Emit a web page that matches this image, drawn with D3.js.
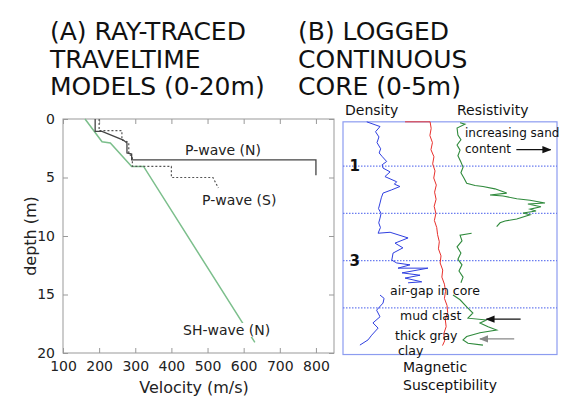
<!DOCTYPE html>
<html>
<head>
<meta charset="utf-8">
<script src="https://cdn.jsdelivr.net/npm/d3@7/dist/d3.min.js"></script>
<style>
  body { margin: 0; background: #fff; }
  svg { display: block; font-family: "DejaVu Sans", sans-serif; }
  .tick text { font-family: "DejaVu Sans", sans-serif; }
</style>
</head>
<body>
<div id="chart"></div>
<script>
// ---- panel A: ray-traced traveltime models, [velocity m/s, depth m]
const velTicks = [100, 200, 300, 400, 500, 600, 700, 800];
const depthTicks = [0, 5, 10, 15, 20];
const pWaveN = [[189, 0], [189, 1.05], [208, 1.05], [267, 1.8], [277, 2.05], [277, 2.9], [290, 3.0], [290, 3.5], [800, 3.5], [800, 4.8]];
const pWaveS = [[200, 0], [200, 1.0], [263, 1.0], [263, 1.8], [282, 2.0], [282, 3.0], [292, 3.2], [292, 4.05], [400, 4.05], [400, 5.0], [515, 5.0], [530, 5.9]];
const shWaveN = [[161, 0], [208, 1.95], [231, 2.05], [290, 4.05], [323, 4.05], [631, 19.1]];

// ---- panel B: logged core, [relative value 0-100, depth m]
const coreLines = [1, 2, 3, 4];
const coreLabels = [1, 3];
const density = [[11.1, 0.06], [17.3, 0.16], [15.2, 0.27], [16.8, 0.38], [15.9, 0.5], [17.6, 0.63], [16.9, 0.72], [18.4, 0.8],
  [20.4, 0.9], [18.3, 0.97], [18.7, 1.04], [22.0, 1.12], [19.6, 1.22], [25.1, 1.33], [24.0, 1.38], [26.6, 1.43], [22.8, 1.5],
  [18.7, 1.57], [17.9, 1.67], [17.3, 1.78], [16.6, 1.9], [17.8, 2.0], [17.3, 2.1], [16.7, 2.2], [17.5, 2.3], [16.4, 2.42],
  [22.0, 2.4], [30.4, 2.52], [24.3, 2.63], [28.0, 2.73], [23.4, 2.84], [22.8, 2.99], [25.1, 3.05], [31.3, 3.09], [25.7, 3.16],
  [39.7, 3.16], [27.6, 3.26], [36.0, 3.31], [29.0, 3.37], [36.8, 3.45], [30.4, 3.47], [null, null],
  [17.3, 3.73], [19.2, 3.8], [18.7, 3.9], [15.7, 4.05], [17.3, 4.19], [14.0, 4.32], [16.4, 4.43], [13.4, 4.58], [11.7, 4.68], [7.9, 4.79]];
const magSus = [[29, 0.06], [40.7, 0.06], [41.2, 0.2], [40.6, 0.35], [41.8, 0.5], [41.1, 0.65], [42.5, 0.8], [41.9, 0.95],
  [43.0, 1.1], [42.4, 1.25], [43.6, 1.4], [42.8, 1.55], [43.5, 1.7], [42.6, 1.85], [43.4, 2.0], [42.7, 2.15], [43.8, 2.3],
  [44.2, 2.45], [45.0, 2.6], [44.6, 2.75], [45.8, 2.9], [45.4, 3.05], [46.6, 3.2], [46.2, 3.35], [47.4, 3.5], [47.9, 3.65],
  [47.4, 3.8], [48.6, 3.95], [48.9, 4.1], [47.8, 4.25], [48.2, 4.4], [47.1, 4.55], [47.5, 4.7], [46.5, 4.8]];
const resistivity = [[54.7, 0.08], [57.0, 0.11], [53.3, 0.19], [53.7, 0.34], [55.1, 0.44], [53.3, 0.55], [54.7, 0.66],
  [53.7, 0.78], [55.1, 0.91], [56.1, 1.02], [55.1, 1.14], [56.5, 1.25], [57.8, 1.36], [61.7, 1.41], [65.4, 1.43], [71.0, 1.48],
  [76.5, 1.57], [68.7, 1.61], [74.8, 1.63], [81.2, 1.69], [87.4, 1.72], [94.4, 1.78], [86.4, 1.8], [92.5, 1.86], [87.4, 1.91],
  [90.2, 1.95], [84.1, 1.99], [87.4, 2.03], [81.2, 2.12], [75.7, 2.16], [73.4, 2.2], [71.8, 2.28], [null, null],
  [60.1, 2.42], [54.7, 2.46], [55.6, 2.58], [53.3, 2.71], [55.1, 2.84], [53.7, 2.97], [55.6, 3.09], [54.2, 3.22], [56.1, 3.35],
  [55.1, 3.47], [null, null], [51.4, 3.73], [54.7, 3.83], [57.8, 3.98], [60.7, 4.11], [58.4, 4.22], [67.1, 4.26], [64.0, 4.32],
  [67.8, 4.4], [71.8, 4.47], [64.0, 4.53], [57.8, 4.61], [56.1, 4.68], [58.4, 4.75], [65.4, 4.79]];

const W = 563, H = 398;
const svg = d3.select('#chart').append('svg').attr('width', W).attr('height', H);

// titles
const titleA = ['(A) RAY-TRACED', 'TRAVELTIME', 'MODELS (0-20m)'];
const titleB = ['(B) LOGGED', 'CONTINUOUS', 'CORE (0-5m)'];
[[titleA, 50], [titleB, 298]].forEach(([lines, x0]) => {
  svg.selectAll(null).data(lines).enter().append('text')
    .attr('x', x0).attr('y', (d, i) => 40 + i * 27.5)
    .attr('font-size', 25).attr('fill', '#111').text(d => d);
});

// ---------- panel A ----------
const x = d3.scaleLinear().domain([100, 850]).range([63, 334]);
const y = d3.scaleLinear().domain([0, 20]).range([119, 353]);
const gA = svg.append('g');

gA.append('rect').attr('x', x(100)).attr('y', y(0))
  .attr('width', x(850) - x(100)).attr('height', y(20) - y(0))
  .attr('fill', 'none').attr('stroke', '#999');

const styleAxis = g => {
  g.select('.domain').remove();
  g.selectAll('.tick line').attr('stroke', '#999');
  g.selectAll('.tick text').attr('fill', '#222').attr('font-size', 14);
};
gA.append('g').attr('transform', `translate(0,${y(20)})`)
  .call(d3.axisBottom(x).tickValues(velTicks).tickSizeInner(-5).tickSizeOuter(0).tickPadding(8))
  .call(styleAxis);
gA.append('g').attr('transform', `translate(0,${y(0)})`)
  .call(d3.axisTop(x).tickValues(velTicks).tickSizeInner(-5).tickSizeOuter(0).tickFormat(''))
  .call(styleAxis);
gA.append('g').attr('transform', `translate(${x(100)},0)`)
  .call(d3.axisLeft(y).tickValues(depthTicks).tickSizeInner(-5).tickSizeOuter(0).tickPadding(8))
  .call(styleAxis);
gA.append('g').attr('transform', `translate(${x(850)},0)`)
  .call(d3.axisRight(y).tickValues(depthTicks).tickSizeInner(-5).tickSizeOuter(0).tickFormat(''))
  .call(styleAxis);

gA.append('text').attr('transform', `translate(30,${y(10)}) rotate(-90)`)
  .attr('text-anchor', 'middle').attr('dominant-baseline', 'central')
  .attr('font-size', 16).attr('fill', '#222').text('depth (m)');
gA.append('text').attr('x', 194).attr('y', 393).attr('text-anchor', 'middle')
  .attr('font-size', 16).attr('fill', '#222').text('Velocity (m/s)');

const lineA = d3.line().x(d => x(d[0])).y(d => y(d[1]));
gA.append('path').attr('d', lineA(shWaveN)).attr('fill', 'none').attr('stroke', '#7cbf8c').attr('stroke-width', 1.5);
gA.append('path').attr('d', lineA(pWaveS)).attr('fill', 'none').attr('stroke', '#555').attr('stroke-width', 1.2).attr('stroke-dasharray', '2,2');
gA.append('path').attr('d', lineA(pWaveN)).attr('fill', 'none').attr('stroke', '#444').attr('stroke-width', 1.3);

const labelsA = [['P-wave (N)', 185, 150], ['P-wave (S)', 202, 200], ['SH-wave (N)', 183, 330]];
labelsA.forEach(([t, lx, ly]) => {
  const txt = gA.append('text').attr('x', lx).attr('y', ly).attr('dominant-baseline', 'central')
    .attr('font-size', 14).attr('fill', '#222').text(t);
  const bb = txt.node().getBBox();
  gA.insert('rect', () => txt.node()).attr('x', bb.x - 2).attr('y', bb.y + 1)
    .attr('width', bb.width + 4).attr('height', bb.height - 2).attr('fill', '#fff');
});

// ---------- panel B ----------
const xR = d3.scaleLinear().domain([0, 100]).range([343, 557]);
const yR = d3.scaleLinear().domain([0, 5]).range([119, 355]);
const gB = svg.append('g');

gB.append('rect').attr('x', xR(0)).attr('y', yR(0.06))
  .attr('width', xR(100) - xR(0)).attr('height', yR(4.99) - yR(0.06))
  .attr('fill', 'none').attr('stroke', '#8c9cf0').attr('stroke-width', 1.2);

gB.selectAll('.grid').data(coreLines).enter().append('line')
  .attr('x1', xR(0)).attr('x2', xR(100)).attr('y1', d => yR(d)).attr('y2', d => yR(d))
  .attr('stroke', '#6b7df0').attr('stroke-width', 1.2).attr('stroke-dasharray', '1.5,1.5');

gB.selectAll('.dlab').data(coreLabels).enter().append('text')
  .attr('x', xR(3)).attr('y', d => yR(d)).attr('dominant-baseline', 'central')
  .attr('font-size', 15).attr('font-weight', 'bold').attr('fill', '#111').text(d => d);

const lineB = d3.line().defined(d => d[0] !== null).x(d => xR(d[0])).y(d => yR(d[1]));
gB.append('path').attr('d', lineB(density)).attr('fill', 'none').attr('stroke', '#2f3fe0').attr('stroke-width', 1);
gB.append('path').attr('d', lineB(magSus)).attr('fill', 'none').attr('stroke', '#e8302c').attr('stroke-width', 1);
gB.append('path').attr('d', lineB(resistivity)).attr('fill', 'none').attr('stroke', '#2f8a3c').attr('stroke-width', 1.1);

const labelsB = [['Density', 345, 110, 14], ['Resistivity', 457, 110, 14],
  ['increasing sand', 465, 133, 12], ['content', 465, 149, 12],
  ['air-gap in core', 390, 290, 12.5], ['mud clast', 400, 315, 12.5],
  ['thick gray', 395, 335, 12.5], ['clay', 398, 350, 12.5],
  ['Magnetic', 403, 367, 14], ['Susceptibility', 403, 385, 14]];
gB.selectAll('.lab').data(labelsB).enter().append('text')
  .attr('x', d => d[1]).attr('y', d => d[2]).attr('dominant-baseline', 'central')
  .attr('font-size', d => d[3]).attr('fill', '#111').text(d => d[0]);

const defs = svg.append('defs');
[['ahBlack', '#111'], ['ahGray', '#888']].forEach(([id, c]) => {
  defs.append('marker').attr('id', id).attr('viewBox', '0 0 10 10').attr('refX', 9).attr('refY', 5)
    .attr('markerWidth', 7).attr('markerHeight', 7).attr('orient', 'auto')
    .append('path').attr('d', 'M0,1 L10,5 L0,9 Z').attr('fill', c);
});
const arrows = [[[81, 0.65], [97, 0.65], 'ahBlack', '#111'],
  [[83, 4.24], [67, 4.24], 'ahBlack', '#111'],
  [[80, 4.66], [64, 4.66], 'ahGray', '#888']];
arrows.forEach(([a, b, m, c]) => {
  gB.append('line').attr('x1', xR(a[0])).attr('y1', yR(a[1])).attr('x2', xR(b[0])).attr('y2', yR(b[1]))
    .attr('stroke', c).attr('stroke-width', 1.3).attr('marker-end', `url(#${m})`);
});
</script>
</body>
</html>
